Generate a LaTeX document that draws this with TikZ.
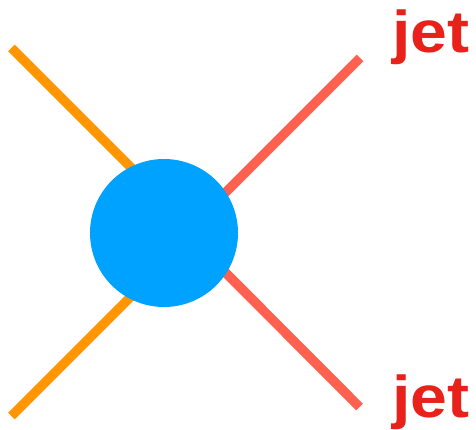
\documentclass[tikz,border=0pt]{standalone}
\usepackage{fontspec}
\setmainfont{Liberation Sans}
\definecolor{incoming}{HTML}{FF9500}
\definecolor{outgoing}{HTML}{FF6150}
\definecolor{jetred}{HTML}{E8221A}
\definecolor{blobblue}{HTML}{00A2FF}
\begin{document}
\begin{tikzpicture}[x=1pt,y=-1pt,
    leg/.style={line width=9.5pt},
    jetlabel/.style={text=jetred,font=\fontsize{59}{59}\selectfont\bfseries,anchor=base,inner sep=0pt,xscale=1.12}]
        \useasboundingbox (0,0) rectangle (476,430);
        % the legs meet behind the blob
        \coordinate (vin) at (195.5,232);
        \coordinate (vout) at (185.5,232.5);
        \coordinate (in1) at (11.5,48);
        \coordinate (in2) at (11.5,416);
        \coordinate (out1) at (360,58);
        \coordinate (out2) at (359.5,407);
        \draw[leg,incoming] (in1) -- (vin);
        \draw[leg,incoming] (in2) -- (vin);
        \draw[leg,outgoing] (out1) -- (vout);
        \draw[leg,outgoing] (out2) -- (vout);
        \node[circle,fill=blobblue,minimum size=148pt,inner sep=0pt] (blob) at (164,233) {};
        \node[jetlabel] (jet1) at (431,53) {jet};
        \node[jetlabel] (jet2) at (431,417) {jet};
      \end{tikzpicture}
\end{document}
